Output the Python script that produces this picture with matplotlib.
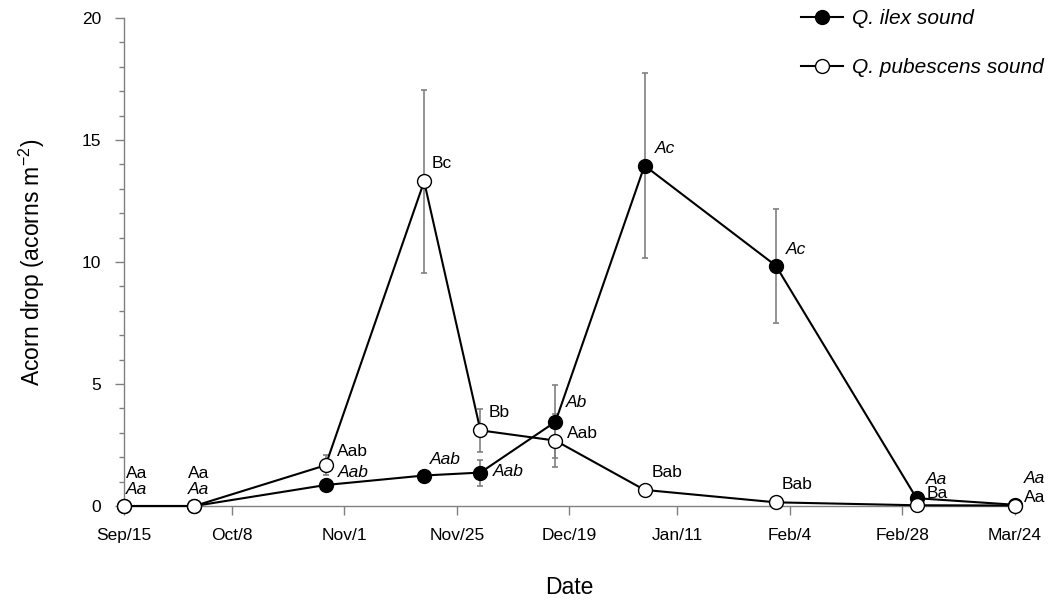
import matplotlib
matplotlib.use('Agg')
import matplotlib.pyplot as plt
import numpy as np

plt.rcParams['font.family'] = ['Liberation Sans', 'DejaVu Sans']
plt.rcParams['mathtext.fontset'] = 'custom'
plt.rcParams['mathtext.rm'] = 'Liberation Sans'
plt.rcParams['mathtext.it'] = 'Liberation Sans:italic'

# fechas de muestreo
dates = np.array(['2009-09-15', '2009-09-30', '2009-10-28', '2009-11-18', '2009-11-30',
                  '2009-12-16', '2010-01-04', '2010-02-01', '2010-03-03', '2010-03-24'],
                 dtype='datetime64[D]')

ilex = [0, 0, 0.86, 1.25, 1.37, 3.45, 13.95, 9.85, 0.32, 0.05]
ilex_err = [0, 0, 0.2, 0.15, 0.53, 1.5, 3.8, 2.33, 0, 0]
ilex_lab = ['Aa', 'Aa', 'Aab', 'Aab', 'Aab', 'Ab', 'Ac', 'Ac', 'Aa', 'Aa']

pub = [0, 0, 1.67, 13.3, 3.1, 2.68, 0.66, 0.15, 0.03, 0.02]
pub_err = [0, 0, 0.4, 3.74, 0.87, 1.1, 0, 0, 0, 0]
pub_lab = ['Aa', 'Aa', 'Aab', 'Bc', 'Bb', 'Aab', 'Bab', 'Bab', 'Ba', 'Aa']

tick_dates = np.array(['2009-09-15', '2009-10-08', '2009-11-01', '2009-11-25', '2009-12-19',
                       '2010-01-11', '2010-02-04', '2010-02-28', '2010-03-24'],
                      dtype='datetime64[D]')
tick_labels = ['Sep/15', 'Oct/8', 'Nov/1', 'Nov/25', 'Dec/19',
               'Jan/11', 'Feb/4', 'Feb/28', 'Mar/24']

# desplazamientos de las letras (pixeles)
ilex_off = [(2, 17), (-6, 17), (12, 13), (6, 16), (12, 1), (10, 19), (10, 17), (10, 16), (9, 19), (9, 26)]
pub_off = [(2, 33), (-6, 33), (11, 14), (7, 18), (8, 18), (12, 7), (7, 17), (6, 18), (10, 12), (9, 8)]

fig = plt.figure(figsize=(10.48, 6.0), dpi=100)
ax = fig.add_axes([124/1048, 1-506/600, (1015-124)/1048, (506-18)/600])

grey = '#808080'
for vals, errs in [(ilex, ilex_err), (pub, pub_err)]:
    eb = ax.errorbar(dates, vals, yerr=errs, fmt='none', ecolor=grey, elinewidth=1.2,
                     capsize=2.2, capthick=1.2, zorder=1)
ax.plot(dates, ilex, '-o', color='black', lw=1.5, ms=10, mfc='black', mec='black', mew=1,
        label='Q. ilex sound', zorder=3, clip_on=False)
ax.plot(dates, pub, '-o', color='black', lw=1.5, ms=10, mfc='white', mec='black', mew=1,
        label='Q. pubescens sound', zorder=4, clip_on=False)

for d, v, t, o in zip(dates, ilex, ilex_lab, ilex_off):
    ax.annotate(t, (d, v), xytext=o, textcoords='offset pixels', ha='left', va='center',
                fontsize=12.5, style='italic', zorder=5)
for d, v, t, o in zip(dates, pub, pub_lab, pub_off):
    ax.annotate(t, (d, v), xytext=o, textcoords='offset pixels', ha='left', va='center',
                fontsize=12.5, zorder=5)

ax.set_xlim(dates[0], dates[-1])
ax.set_ylim(0, 20)
ax.set_xticks(tick_dates)
ax.set_xticklabels(tick_labels)
ax.set_yticks([0, 5, 10, 15, 20])
ax.set_yticks(np.arange(0, 21, 1), minor=True)
ax.tick_params(axis='both', which='major', direction='out', color=grey, length=6.5, width=1,
               labelsize=12.5)
ax.tick_params(axis='x', pad=9)
ax.tick_params(axis='y', pad=10)
ax.tick_params(axis='y', which='minor', direction='out', color=grey, length=3.5, width=1)

for s in ['top', 'right']:
    ax.spines[s].set_visible(False)
for s in ['left', 'bottom']:
    ax.spines[s].set_color(grey)
    ax.spines[s].set_linewidth(1)
ax.patch.set_visible(False)

ax.set_xlabel('Date', fontsize=16.5, labelpad=24)
ax.set_ylabel('Acorn drop (acorns m$^{-2}$)', fontsize=16.5, labelpad=25)

leg = fig.legend(loc='upper left', bbox_to_anchor=(801/1048, 1-9/600), frameon=False,
                 prop={'size': 15, 'style': 'italic'}, handlelength=2.0, handletextpad=0.45,
                 labelspacing=1.45, borderpad=0, borderaxespad=0)

fig.savefig('out.png', dpi=100)
